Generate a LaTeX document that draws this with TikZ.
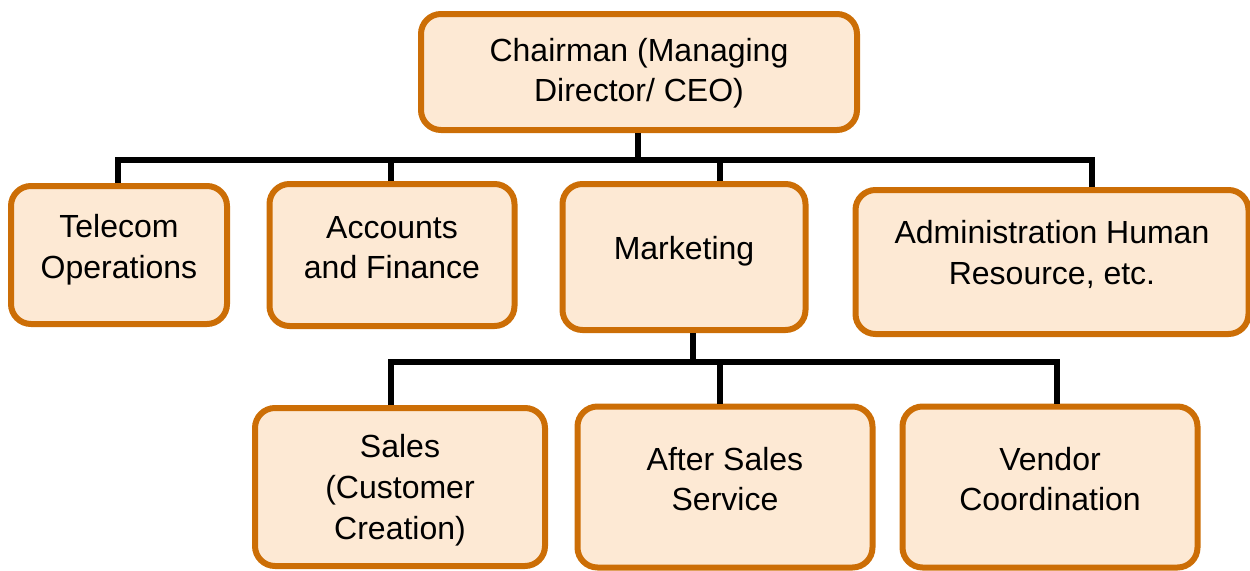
\documentclass[tikz,border=0pt]{standalone}
\usepackage{fontspec}
\setmainfont{Liberation Sans}
\definecolor{boxfill}{HTML}{FDE9D4}
\definecolor{boxdraw}{HTML}{CC6E06}
\begin{document}
\begin{tikzpicture}[x=0.75pt,y=-0.75pt,
  orgbox/.style={draw=boxdraw,fill=boxfill,line width=4.5pt,rounded corners=15pt,
    inner sep=0pt,anchor=center},
  boxtext/.style={align=center,font=\fontsize{24}{30.5}\selectfont,inner sep=0pt},
  link/.style={line width=3.8pt,black}]
\useasboundingbox (0,0) rectangle (1250,571);
\node[orgbox,minimum width=436*0.75pt,minimum height=116*0.75pt,
  label={[boxtext,yshift=-1pt]center:Chairman (Managing\\Director/ CEO)}] (ceo) at (639,72) {};
\node[orgbox,minimum width=216*0.75pt,minimum height=138*0.75pt,
  label={[boxtext,yshift=4pt]center:Telecom\\Operations}] (tel) at (119,255) {};
\node[orgbox,minimum width=245*0.75pt,minimum height=142*0.75pt,
  label={[boxtext,yshift=5.5pt]center:Accounts\\and Finance}] (acc) at (392,255) {};
\node[orgbox,minimum width=243*0.75pt,minimum height=146*0.75pt,
  label={[boxtext,yshift=4.5pt]center:Marketing}] (mkt) at (684,257) {};
\node[orgbox,minimum width=393*0.75pt,minimum height=144*0.75pt,
  label={[boxtext,yshift=5.5pt]center:Administration Human\\Resource, etc.}] (adm) at (1052,262) {};
\node[orgbox,minimum width=290*0.75pt,minimum height=158*0.75pt,
  label={[boxtext,yshift=-2.5pt]center:Sales\\(Customer\\Creation)}] (sal) at (400,487) {};
\node[orgbox,minimum width=295*0.75pt,minimum height=161*0.75pt,
  label={[boxtext,yshift=6pt]center:After Sales\\Service}] (aft) at (725,487) {};
\node[orgbox,minimum width=295*0.75pt,minimum height=161*0.75pt,
  label={[boxtext,yshift=6pt]center:Vendor\\Coordination}] (ven) at (1050,487) {};
\coordinate (b1) at (638,160);
\coordinate (b2) at (693,362);
\draw[link] (ceo.south -| b1) -- (b1);
\draw[link] (tel.north -| 118,0) -- (118,160) -- (1092,160) -- (adm.north -| 1092,0);
\draw[link] (acc.north -| 391,0) -- (391,160);
\draw[link] (mkt.north -| 720,0) -- (720,160);
\draw[link] (mkt.south -| b2) -- (b2);
\draw[link] (sal.north -| 391,0) -- (391,362) -- (1057,362) -- (ven.north -| 1057,0);
\draw[link] (aft.north -| 720,0) -- (720,362);
\end{tikzpicture}
\end{document}
